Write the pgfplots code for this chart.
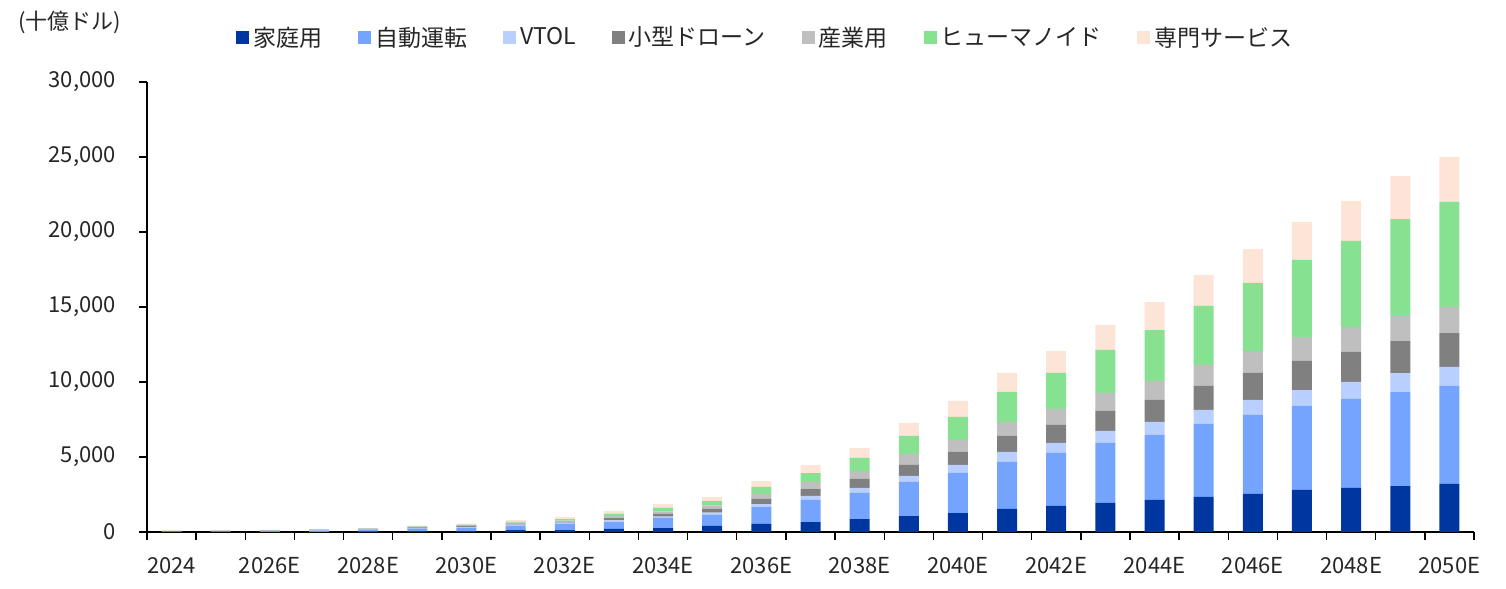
\documentclass[border=0pt]{standalone}
\usepackage{fontspec}
\setmainfont{Noto Sans CJK JP}
\usepackage{pgfplots}
\pgfplotsset{compat=1.18}
\usepackage{pgfplotstable}
\definecolor{cHome}{HTML}{0036A0}
\definecolor{cAuto}{HTML}{75A4FF}
\definecolor{cVtol}{HTML}{B9CFFF}
\definecolor{cDrone}{HTML}{808080}
\definecolor{cInd}{HTML}{BFBFBF}
\definecolor{cHum}{HTML}{86E290}
\definecolor{cSpec}{HTML}{FCE4D6}
\definecolor{txt}{HTML}{262626}
\pgfplotstableread{
x home auto vtol drone ind hum spec
0 5 10 0 40 20 0 55
1 5 10 0 55 15 0 40
2 10 50 5 30 15 5 30
3 15 80 5 40 25 5 30
4 25 140 10 30 25 10 30
5 50 180 15 60 40 30 45
6 65 225 45 65 50 40 65
7 130 290 70 65 65 70 110
8 130 420 70 70 65 110 135
9 200 465 110 155 135 155 180
10 265 690 65 200 155 245 245
11 400 755 135 265 220 290 265
12 535 1130 200 335 335 465 400
13 665 1470 265 465 465 600 535
14 865 1735 335 600 535 865 665
15 1065 2270 400 735 735 1200 865
16 1265 2670 535 865 800 1535 1065
17 1535 3135 665 1065 935 2000 1265
18 1735 3535 665 1200 1065 2400 1465
19 1935 4000 800 1335 1200 2865 1665
20 2135 4335 865 1465 1265 3400 1865
21 2335 4865 935 1600 1400 3935 2065
22 2535 5265 1000 1800 1465 4535 2265
23 2800 5600 1065 1935 1600 5135 2535
24 2935 5935 1135 2000 1665 5735 2665
25 3065 6265 1265 2135 1735 6400 2865
26 3200 6535 1265 2265 1735 7000 3000
}\data
\begin{document}
\begin{tikzpicture}
\path[use as bounding box] (0,0) rectangle (753pt,294.5pt);
\node[text=txt, font=\fontsize{11}{13}\selectfont] at (35pt,283.5pt) {(十億ドル)};
\begin{axis}[
  at={(73.5pt,28.5pt)}, anchor=south west,
  scale only axis, width=663.5pt, height=225pt,
  ybar stacked, bar width=10pt,
  xmin=-0.5, xmax=26.5, ymin=0, ymax=30000,
  axis x line*=bottom, axis y line*=left,
  axis line style={-, black, line width=0.7pt},
  xtick={0,2,...,26},
  xticklabels={2024,2026E,2028E,2030E,2032E,2034E,2036E,2038E,2040E,2042E,2044E,2046E,2048E,2050E},
  minor xtick={-0.5,0.5,...,26.5},
  major x tick style={draw=none},
  minor tick length=4pt,
  x tick style={black, line width=0.7pt},
  ytick={0,5000,...,30000},
  yticklabels={0,{5,000},{10,000},{15,000},{20,000},{25,000},{30,000}},
  scaled y ticks=false,
  y tick style={black, line width=0.7pt},
  major tick length=4pt,
  tick align=outside,
  yticklabel style={xshift=-8pt, text=txt, font=\fontsize{11}{13}\selectfont},
  xticklabel style={yshift=-5pt, text=txt, font=\fontsize{11}{13}\selectfont},
  legend columns=7,
  legend style={draw=none, fill=none, at={(0.4665,1.098)}, anchor=center,
    font=\fontsize{11.5}{13}\selectfont, text=txt,
    /tikz/every even column/.append style={column sep=16pt},
    nodes={inner xsep=2pt}},
  legend image code/.code={\fill[#1] (0pt,-3.25pt) rectangle (6.5pt,3.25pt);},
  legend cell align=left,
]
\addplot[fill=cHome, draw=none] table[x=x, y=home] {\data};
\addplot[fill=cAuto, draw=none] table[x=x, y=auto] {\data};
\addplot[fill=cVtol, draw=none] table[x=x, y=vtol] {\data};
\addplot[fill=cDrone, draw=none] table[x=x, y=drone] {\data};
\addplot[fill=cInd, draw=none] table[x=x, y=ind] {\data};
\addplot[fill=cHum, draw=none] table[x=x, y=hum] {\data};
\addplot[fill=cSpec, draw=none] table[x=x, y=spec] {\data};
\legend{家庭用,自動運転,VTOL,小型ドローン,産業用,ヒューマノイド,専門サービス}
\end{axis}
\end{tikzpicture}
\end{document}
